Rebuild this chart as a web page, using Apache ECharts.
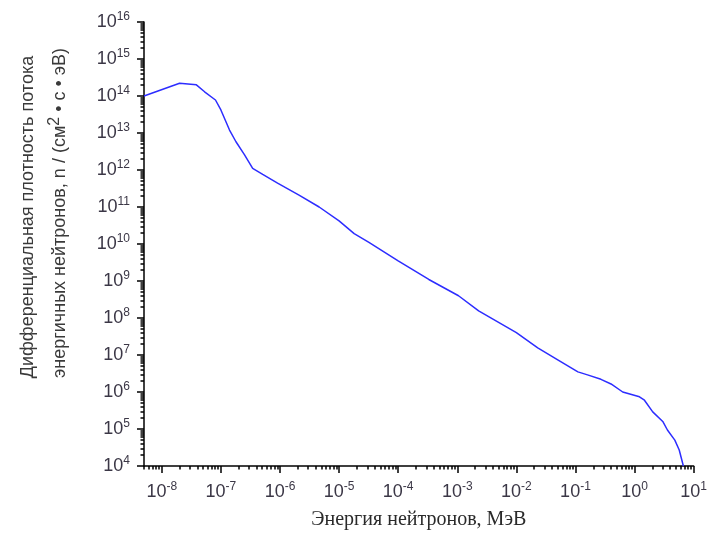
<!DOCTYPE html>
<html>
<head>
<meta charset="utf-8">
<script src="https://cdn.jsdelivr.net/npm/echarts@6/dist/echarts.min.js"></script>
<style>
  html, body { margin: 0; padding: 0; background: #fff; }
  #chart { width: 710px; height: 540px; }
</style>
</head>
<body>
<div id="chart"></div>
<script>
// Neutron energy, MeV
const energyMeV = [5.0e-9, 2.0e-8, 3.85e-8, 5.3e-8, 8.1e-8, 1.0e-7, 1.4e-7, 1.8e-7, 2.5e-7, 3.45e-7,
  5.1e-7, 9.1e-7, 2.1e-6, 4.6e-6, 1.0e-5, 1.8e-5, 3.2e-5, 1.0e-4, 3.3e-4, 1.05e-3,
  2.3e-3, 1.0e-2, 2.3e-2, 5.1e-2, 1.1e-1, 1.6e-1, 2.7e-1, 0.4, 0.63, 1.21,
  1.47, 2.03, 3.0, 3.6, 4.8, 5.7, 6.7];
// Differential flux density, n / (cm^2 * s * eV)
const fluxDensity = [1.0e14, 2.2e14, 2.0e14, 1.3e14, 7.8e13, 4.2e13, 1.2e13, 5.8e12, 2.6e12, 1.1e12,
  7.6e11, 4.4e11, 2.1e11, 1.0e11, 4.2e10, 1.9e10, 1.1e10, 3.5e9, 1.1e9, 4.0e8,
  1.55e8, 4.0e7, 1.55e7, 7.3e6, 3.5e6, 2.9e6, 2.2e6, 1.65e6, 1.0e6, 7.4e5,
  6.0e5, 2.9e5, 1.6e5, 9.4e4, 5.0e4, 2.7e4, 1.0e4];

// Decade exponents shown as tick labels
const xDecades = [-8, -7, -6, -5, -4, -3, -2, -1, 0, 1];
const yDecades = [4, 5, 6, 7, 8, 9, 10, 11, 12, 13, 14, 15, 16];
const minorSteps = [2, 3, 4, 5, 6, 7, 8, 9];

const xMin = 5.0e-9, xMax = 10;
const yMin = 1e4, yMax = 1e16;

const xMajor = xDecades.map(e => Math.pow(10, e));
const yMajor = yDecades.map(e => Math.pow(10, e));
function minorTicks(lo, hi, e0, e1) {
  const out = [];
  for (let e = e0; e <= e1; e++) {
    minorSteps.forEach(k => {
      const v = k * Math.pow(10, e);
      if (v >= lo && v <= hi) out.push(v);
    });
  }
  return out;
}
const xMinor = minorTicks(xMin, xMax, -9, 0);
const yMinor = minorTicks(yMin, yMax, 4, 15);

const labelColor = '#3b3746';
const powRich = {
  b: { fontFamily: 'Liberation Sans, Arial, sans-serif', fontSize: 18, color: labelColor, lineHeight: 22 },
  s: { fontFamily: 'Liberation Sans, Arial, sans-serif', fontSize: 12, color: labelColor, lineHeight: 12, verticalAlign: 'top' }
};
function powLabel(v) {
  const e = Math.round(Math.log10(v));
  return '{b|10}{s|' + e + '}';
}

const axisLineStyle = { color: '#000', width: 1.5 };
const titleFont = 'Liberation Sans, Arial, sans-serif';

const chart = echarts.init(document.getElementById('chart'), null, { renderer: 'canvas' });
chart.setOption({
  backgroundColor: '#fff',
  animation: false,
  grid: { left: 144, right: 13, top: 22, bottom: 74, containLabel: false },
  xAxis: [
    {
      type: 'log', logBase: 10, min: xMin, max: xMax, position: 'bottom',
      axisLine: { show: true, onZero: false, lineStyle: axisLineStyle },
      axisTick: { show: true, length: 7, inside: false, customValues: xMajor, lineStyle: axisLineStyle },
      axisLabel: { show: true, margin: 15, customValues: xMajor, formatter: powLabel, rich: powRich },
      splitLine: { show: false },
      minorTick: { show: false },
      name: 'Энергия нейтронов, МэВ',
      nameLocation: 'middle',
      nameGap: 44,
      nameTextStyle: { fontFamily: 'Liberation Serif, Times New Roman, serif', fontSize: 20, color: '#2a2a2a' }
    },
    {
      type: 'log', logBase: 10, min: xMin, max: xMax, position: 'bottom',
      axisLine: { show: false, onZero: false },
      axisTick: { show: true, length: 3.5, inside: false, customValues: xMinor, lineStyle: axisLineStyle },
      axisLabel: { show: false },
      splitLine: { show: false }
    }
  ],
  yAxis: [
    {
      type: 'log', logBase: 10, min: yMin, max: yMax, position: 'left',
      axisLine: { show: true, onZero: false, lineStyle: axisLineStyle },
      axisTick: { show: true, length: 7, inside: false, customValues: yMajor, lineStyle: axisLineStyle },
      axisLabel: { show: true, margin: 14, customValues: yMajor, formatter: powLabel, rich: powRich },
      splitLine: { show: false },
      minorTick: { show: false }
    },
    {
      type: 'log', logBase: 10, min: yMin, max: yMax, position: 'left',
      axisLine: { show: false, onZero: false },
      axisTick: { show: true, length: 3.5, inside: false, customValues: yMinor, lineStyle: axisLineStyle },
      axisLabel: { show: false },
      splitLine: { show: false }
    }
  ],
  graphic: [
    {
      type: 'text', x: 28, y: 217, rotation: Math.PI / 2,
      style: {
        text: 'Дифференциальная плотность потока',
        align: 'center', verticalAlign: 'middle',
        fontFamily: titleFont, fontSize: 18, fill: '#3a3a3a'
      }
    },
    {
      type: 'text', x: 60, y: 213, rotation: Math.PI / 2,
      style: {
        text: '{n|энергичных нейтронов, n / (см}{s|2}{n| • с • эВ)}',
        align: 'center', verticalAlign: 'middle',
        fontFamily: titleFont, fontSize: 18, fill: '#3a3a3a',
        rich: {
          n: { fontFamily: titleFont, fontSize: 18, fill: '#3a3a3a', lineHeight: 26 },
          s: { fontFamily: titleFont, fontSize: 16, fill: '#3a3a3a', lineHeight: 16, verticalAlign: 'top' }
        }
      }
    }
  ],
  series: [
    {
      type: 'line',
      xAxisIndex: 0, yAxisIndex: 0,
      data: energyMeV.map((e, i) => [e, fluxDensity[i]]),
      showSymbol: false,
      symbol: 'none',
      lineStyle: { color: '#2d2dff', width: 1.5 },
      clip: true
    }
  ]
});
</script>
</body>
</html>
